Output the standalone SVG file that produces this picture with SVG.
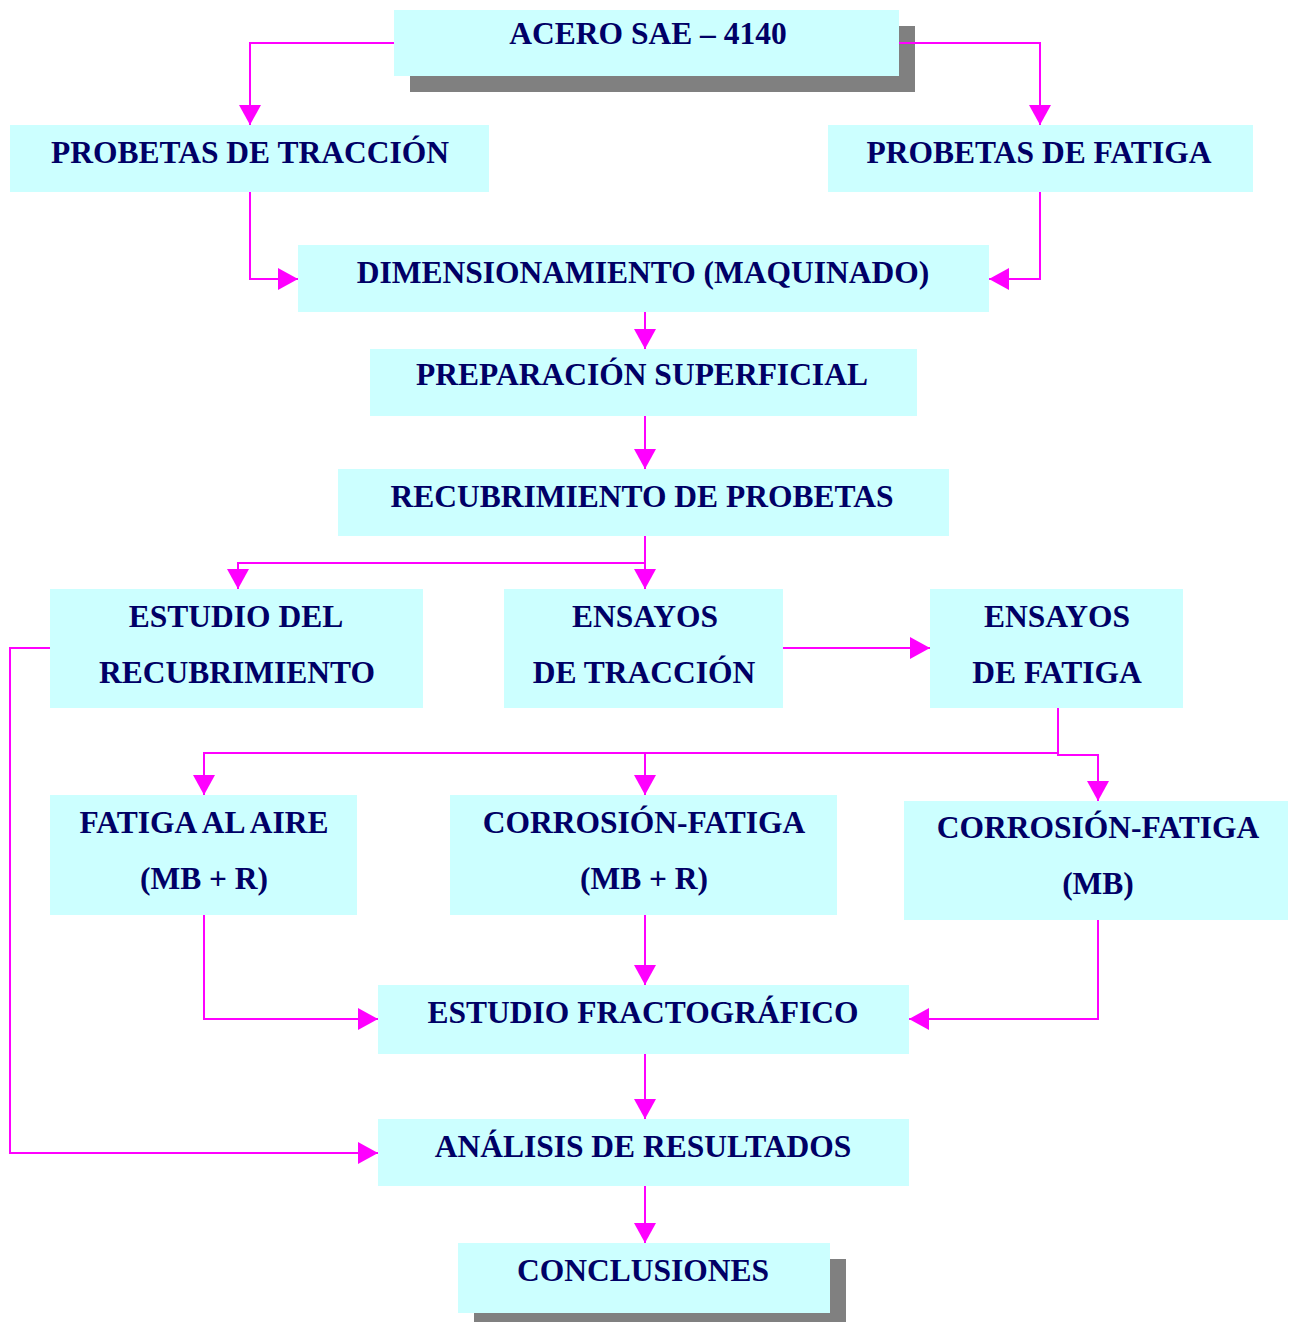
<svg xmlns="http://www.w3.org/2000/svg" width="1289" height="1322" viewBox="0 0 1289 1322">
<defs>
<marker id="ah" markerWidth="20" markerHeight="22" refX="20" refY="11" orient="auto" markerUnits="userSpaceOnUse"><path d="M0,0 L20,11 L0,22 Z" fill="#FF00FF"/></marker>
</defs>
<style>
.box{fill:#CCFFFF}
.sh{fill:#808080}
.t{font-family:"Liberation Serif","Times New Roman",serif;font-weight:bold;font-size:31.5px;fill:#000066;text-anchor:middle}
.c{fill:none;stroke:#FF00FF;stroke-width:2}
.a{marker-end:url(#ah)}
</style>
<rect width="1289" height="1322" fill="#FFFFFF"/>
<g id="acero">
<rect class="sh" x="410" y="26" width="505" height="66"/>
<rect class="box" x="394" y="10" width="505" height="66"/>
<text class="t" x="648" y="44">ACERO SAE – 4140</text>
</g>
<g id="probetas-traccion">
<rect class="box" x="10" y="125" width="479" height="67"/>
<text class="t" x="250" y="163">PROBETAS DE TRACCIÓN</text>
</g>
<g id="probetas-fatiga">
<rect class="box" x="828" y="125" width="425" height="67"/>
<text class="t" x="1039" y="163">PROBETAS DE FATIGA</text>
</g>
<g id="dimensionamiento">
<rect class="box" x="298" y="245" width="691" height="67"/>
<text class="t" x="643" y="283">DIMENSIONAMIENTO (MAQUINADO)</text>
</g>
<g id="preparacion">
<rect class="box" x="370" y="349" width="547" height="67"/>
<text class="t" x="642" y="385">PREPARACIÓN SUPERFICIAL</text>
</g>
<g id="recubrimiento">
<rect class="box" x="338" y="469" width="611" height="67"/>
<text class="t" x="642" y="507">RECUBRIMIENTO DE PROBETAS</text>
</g>
<g id="estudio-recubrimiento">
<rect class="box" x="50" y="589" width="373" height="119"/>
<text class="t" x="236" y="627">ESTUDIO DEL</text>
<text class="t" x="237" y="683">RECUBRIMIENTO</text>
</g>
<g id="ensayos-traccion">
<rect class="box" x="504" y="589" width="279" height="119"/>
<text class="t" x="645" y="627">ENSAYOS</text>
<text class="t" x="644" y="683">DE TRACCIÓN</text>
</g>
<g id="ensayos-fatiga">
<rect class="box" x="930" y="589" width="253" height="119"/>
<text class="t" x="1057" y="627">ENSAYOS</text>
<text class="t" x="1057" y="683">DE FATIGA</text>
</g>
<g id="fatiga-aire">
<rect class="box" x="50" y="795" width="307" height="120"/>
<text class="t" x="204" y="833">FATIGA AL AIRE</text>
<text class="t" x="204" y="889">(MB + R)</text>
</g>
<g id="corrosion-fatiga-mbr">
<rect class="box" x="450" y="795" width="387" height="120"/>
<text class="t" x="644" y="833">CORROSIÓN-FATIGA</text>
<text class="t" x="644" y="889">(MB + R)</text>
</g>
<g id="corrosion-fatiga-mb">
<rect class="box" x="904" y="801" width="384" height="119"/>
<text class="t" x="1098" y="838">CORROSIÓN-FATIGA</text>
<text class="t" x="1098" y="894">(MB)</text>
</g>
<g id="fractografico">
<rect class="box" x="378" y="985" width="531" height="69"/>
<text class="t" x="643" y="1023">ESTUDIO FRACTOGRÁFICO</text>
</g>
<g id="analisis">
<rect class="box" x="378" y="1119" width="531" height="67"/>
<text class="t" x="643" y="1157">ANÁLISIS DE RESULTADOS</text>
</g>
<g id="conclusiones">
<rect class="sh" x="474" y="1259" width="372" height="63"/>
<rect class="box" x="458" y="1243" width="372" height="70"/>
<text class="t" x="643" y="1281">CONCLUSIONES</text>
</g>
<g id="connectors">
<polyline class="c a" points="394,43 250,43 250,125"/>
<polyline class="c a" points="899,43 1040,43 1040,125"/>
<polyline class="c a" points="250,192 250,279 298,279"/>
<polyline class="c a" points="1040,192 1040,279 989,279"/>
<polyline class="c a" points="645,312 645,349"/>
<polyline class="c a" points="645,416 645,469"/>
<polyline class="c a" points="645,536 645,589"/>
<polyline class="c a" points="645,563 238,563 238,589"/>
<polyline class="c a" points="783,648 930,648"/>
<polyline class="c a" points="50,648 10,648 10,1153 378,1153"/>
<polyline class="c a" points="1058,708 1058,753 204,753 204,795"/>
<polyline class="c a" points="645,753 645,795"/>
<polyline class="c a" points="1058,753 1058,755 1098,755 1098,801"/>
<polyline class="c a" points="204,915 204,1019 378,1019"/>
<polyline class="c a" points="645,915 645,985"/>
<polyline class="c a" points="1098,920 1098,1019 909,1019"/>
<polyline class="c a" points="645,1054 645,1119"/>
<polyline class="c a" points="645,1186 645,1243"/>
</g>
</svg>
